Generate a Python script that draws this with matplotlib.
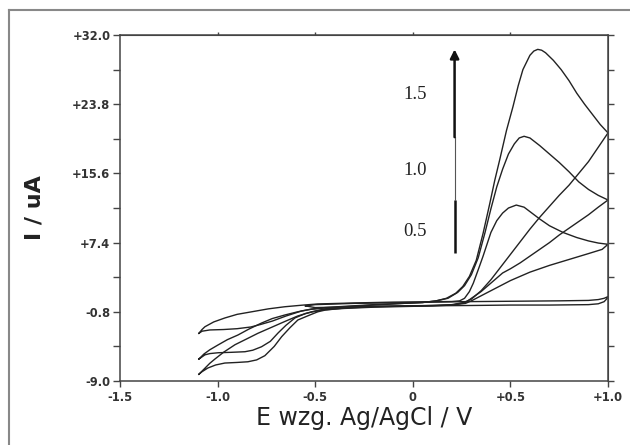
import numpy as np
import matplotlib.pyplot as plt
from matplotlib.lines import Line2D

# Cyclic voltammograms (E in V, I in uA)
# scan 1.5: forward branch then reverse branch
e_15_fwd = [-1.096, -1.07, -1.04, -1.014, -0.97, -0.911, -0.85, -0.794, -0.72, -0.656, -0.59, -0.519,
            -0.45, -0.35, -0.2, -0.05, 0.05, 0.12, 0.172, 0.22, 0.256, 0.29, 0.325, 0.36, 0.394, 0.42,
            0.445, 0.48, 0.513, 0.54, 0.564, 0.60, 0.62, 0.64, 0.66, 0.68, 0.72, 0.76, 0.80, 0.84,
            0.88, 0.92, 0.96, 1.0]
i_15_fwd = [-8.2, -7.6, -6.9, -6.4, -5.6, -4.7, -4.0, -3.35, -2.6, -1.95, -1.3, -0.8,
            -0.45, -0.2, 0.0, 0.2, 0.3, 0.5, 0.8, 1.4, 2.2, 3.4, 5.3, 8.5, 12.0, 14.8,
            17.2, 20.7, 23.5, 26.0, 27.9, 29.6, 30.1, 30.3, 30.2, 29.9, 29.0, 27.9, 26.6, 25.1,
            23.8, 22.6, 21.4, 20.4]
e_15_rev = [0.95, 0.9, 0.85, 0.8, 0.75, 0.7, 0.65, 0.6, 0.55, 0.5, 0.45, 0.4, 0.35, 0.3, 0.26, 0.2,
            0.1, 0.0, -0.2, -0.35, -0.45, -0.487, -0.53, -0.589, -0.63, -0.672, -0.71, -0.758, -0.80,
            -0.845, -0.90, -0.963, -1.01, -1.05, -1.08, -1.096]
i_15_rev = [18.7, 17.0, 15.6, 14.2, 13.0, 11.7, 10.4, 9.0, 7.5, 6.0, 4.5, 3.0, 1.7, 0.7, 0.3, 0.05,
            -0.05, -0.1, -0.2, -0.35, -0.6, -0.8, -1.2, -1.77, -2.7, -3.75, -4.9, -6.0, -6.5,
            -6.72, -6.8, -6.87, -7.1, -7.46, -7.9, -8.2]

# scan 1.0
e_10_fwd = [-1.096, -1.07, -1.04, -0.998, -0.95, -0.896, -0.84, -0.775, -0.72, -0.656, -0.59, -0.519,
            -0.45, -0.35, -0.2, -0.05, 0.05, 0.12, 0.18, 0.23, 0.265, 0.30, 0.335, 0.37, 0.40, 0.43,
            0.46, 0.49, 0.52, 0.545, 0.57, 0.60, 0.65, 0.70, 0.75, 0.80, 0.85, 0.90, 0.95, 1.0]
i_10_fwd = [-6.4, -5.8, -5.3, -4.73, -4.1, -3.55, -2.85, -2.13, -1.6, -1.18, -0.8, -0.47,
            -0.3, -0.15, 0.05, 0.2, 0.3, 0.5, 0.8, 1.5, 2.3, 3.6, 5.6, 8.6, 11.4, 14.0,
            16.1, 17.9, 19.1, 19.8, 20.0, 19.8, 18.9, 17.9, 16.9, 15.8, 14.6, 13.7, 13.0, 12.45]
e_10_rev = [0.95, 0.9, 0.85, 0.8, 0.75, 0.7, 0.65, 0.6, 0.55, 0.5, 0.46, 0.4, 0.35, 0.3, 0.27, 0.2,
            0.1, 0.0, -0.2, -0.35, -0.45, -0.487, -0.55, -0.604, -0.65, -0.69, -0.73, -0.775, -0.82,
            -0.86, -0.93, -0.997, -1.04, -1.065, -1.096]
i_10_rev = [11.6, 10.7, 9.9, 9.1, 8.3, 7.4, 6.6, 5.8, 5.0, 4.3, 3.8, 2.6, 1.6, 0.8, 0.3, 0.0,
            -0.1, -0.15, -0.25, -0.4, -0.55, -0.67, -1.0, -1.53, -2.4, -3.3, -4.3, -4.94, -5.35,
            -5.53, -5.6, -5.65, -5.75, -5.9, -6.4]

# scan 0.5
e_05_fwd = [-1.096, -1.08, -1.065, -1.02, -0.963, -0.9, -0.826, -0.74, -0.656, -0.56, -0.487, -0.3,
            -0.1, 0.1, 0.2, 0.24, 0.265, 0.29, 0.31, 0.34, 0.36, 0.38, 0.40, 0.43, 0.46, 0.49, 0.53,
            0.57, 0.61, 0.65, 0.70, 0.77, 0.84, 0.90, 0.95, 1.0]
i_05_fwd = [-3.35, -2.9, -2.57, -2.0, -1.53, -1.1, -0.8, -0.45, -0.2, 0.0, 0.13, 0.25,
            0.35, 0.4, 0.42, 0.5, 0.8, 1.6, 2.6, 4.5, 5.8, 7.2, 8.6, 10.0, 10.9, 11.5, 11.85,
            11.6, 10.9, 10.2, 9.4, 8.6, 8.0, 7.6, 7.35, 7.2]
e_05_rev = [0.97, 0.9, 0.8, 0.7, 0.6, 0.5, 0.45, 0.4, 0.35, 0.3, 0.27, 0.2, 0.1, -0.2, -0.4, -0.45,
            -0.52, -0.57, -0.65, -0.72, -0.78, -0.83, -0.9, -0.97, -1.04, -1.08, -1.096]
i_05_rev = [6.6, 6.1, 5.4, 4.7, 3.9, 2.9, 2.3, 1.7, 1.1, 0.5, 0.2, 0.0, -0.05, -0.15, -0.3, -0.35,
            -0.5, -0.7, -1.3, -1.9, -2.3, -2.6, -2.8, -2.9, -2.95, -3.1, -3.35]

# background scan (flat loop)
e_bg = [-0.55, -0.5, -0.3, 0.0, 0.25, 0.5, 0.75, 0.9, 0.95, 0.98, 1.0, 1.0, 0.98, 0.95, 0.9, 0.7, 0.5,
        0.3, 0.0, -0.3, -0.5, -0.55]
i_bg = [-0.1, 0.05, 0.2, 0.3, 0.4, 0.45, 0.5, 0.55, 0.65, 0.8, 1.0, 0.9, 0.4, 0.15, 0.05, 0.0, 0.0,
        -0.05, -0.1, -0.2, -0.3, -0.1]

x_ticks = [-1.5, -1.0, -0.5, 0.0, 0.5, 1.0]
x_labels = ['-1.5', '-1.0', '-0.5', '0', '+0.5', '+1.0']
y_ticks = [-9.0, -0.8, 7.4, 15.6, 23.8, 32.0]
y_labels = ['-9.0', '-0.8', '+7.4', '+15.6', '+23.8', '+32.0']
scan_labels = ['1.5', '1.0', '0.5']
scan_label_y = [24.9, 16.0, 8.66]

fig = plt.figure(figsize=(6.3, 4.45), dpi=100)
ax = fig.add_axes([0.1905, 0.1438, 0.7746, 0.7775])

curve_kw = dict(color='#222222', lw=1.0)
for e_f, i_f, e_r, i_r in [(e_15_fwd, i_15_fwd, e_15_rev, i_15_rev),
                           (e_10_fwd, i_10_fwd, e_10_rev, i_10_rev),
                           (e_05_fwd, i_05_fwd, e_05_rev, i_05_rev)]:
    ax.plot(list(e_f) + list(e_r), list(i_f) + list(i_r), **curve_kw)
ax.plot(e_bg, i_bg, **curve_kw)

ax.set_xlim(-1.5, 1.0)
ax.set_ylim(-9.0, 32.0)

spine_col = '#444444'
for s in ax.spines.values():
    s.set_color(spine_col)
    s.set_linewidth(1.1)

tick_font = dict(family='DejaVu Sans', weight='bold', size=8.3, color='#333333')
ax.set_xticks(x_ticks)
ax.set_xticklabels(x_labels, **tick_font)
ax.set_yticks(y_ticks)
ax.set_yticklabels(y_labels, **tick_font)
ax.set_yticks([-4.9, 3.3, 11.5, 19.7, 27.9], minor=True)
ax.tick_params(axis='x', direction='out', length=4.5, width=1.0, color=spine_col, pad=2.5)
ax.tick_params(axis='y', which='both', direction='out', length=5, width=1.0, color=spine_col, pad=2)

top = ax.secondary_xaxis('top')
top.set_xticks([-1.0, -0.5, 0.0, 0.5])
top.tick_params(direction='out', length=2.5, width=1.0, color=spine_col, labeltop=False)
top.spines['top'].set_color(spine_col)
right = ax.secondary_yaxis('right')
right.set_yticks(np.linspace(-9.0, 32.0, 11))
right.tick_params(direction='out', length=4, width=1.0, color=spine_col, labelright=False)
right.spines['right'].set_color(spine_col)

# scan-rate labels and arrow
for lab, yy in zip(scan_labels, scan_label_y):
    ax.text(0.01, yy, lab, family='Liberation Serif', fontsize=13.5, color='#222222',
            ha='center', va='center')
ax.plot([0.214, 0.214], [6.2, 12.45], color='#111111', lw=1.8, solid_capstyle='butt')
ax.plot([0.214, 0.214], [12.45, 19.9], color='#555555', lw=0.8)
ax.annotate('', xy=(0.214, 30.3), xytext=(0.214, 19.9),
            arrowprops=dict(arrowstyle='-|>', lw=1.8, color='#111111', mutation_scale=13,
                            shrinkA=0, shrinkB=0))

fig.text(364 / 630, 1 - 418 / 445, 'E wzg. Ag/AgCl / V', family='DejaVu Sans', fontsize=17,
         color='#222222', ha='center', va='center')
fig.text(34 / 630, 1 - 208 / 445, 'I / uA', family='DejaVu Sans', fontsize=16, weight='bold',
         color='#222222', ha='center', va='center', rotation=90)

# grey frame of the original figure (left and top edges)
fig.add_artist(Line2D([9 / 630, 9 / 630], [0, 1 - 10 / 445], transform=fig.transFigure,
                      color='#888888', lw=1.5))
fig.add_artist(Line2D([9 / 630, 1], [1 - 10 / 445, 1 - 10 / 445], transform=fig.transFigure,
                      color='#888888', lw=1.5))

fig.savefig('out.png', dpi=100)
